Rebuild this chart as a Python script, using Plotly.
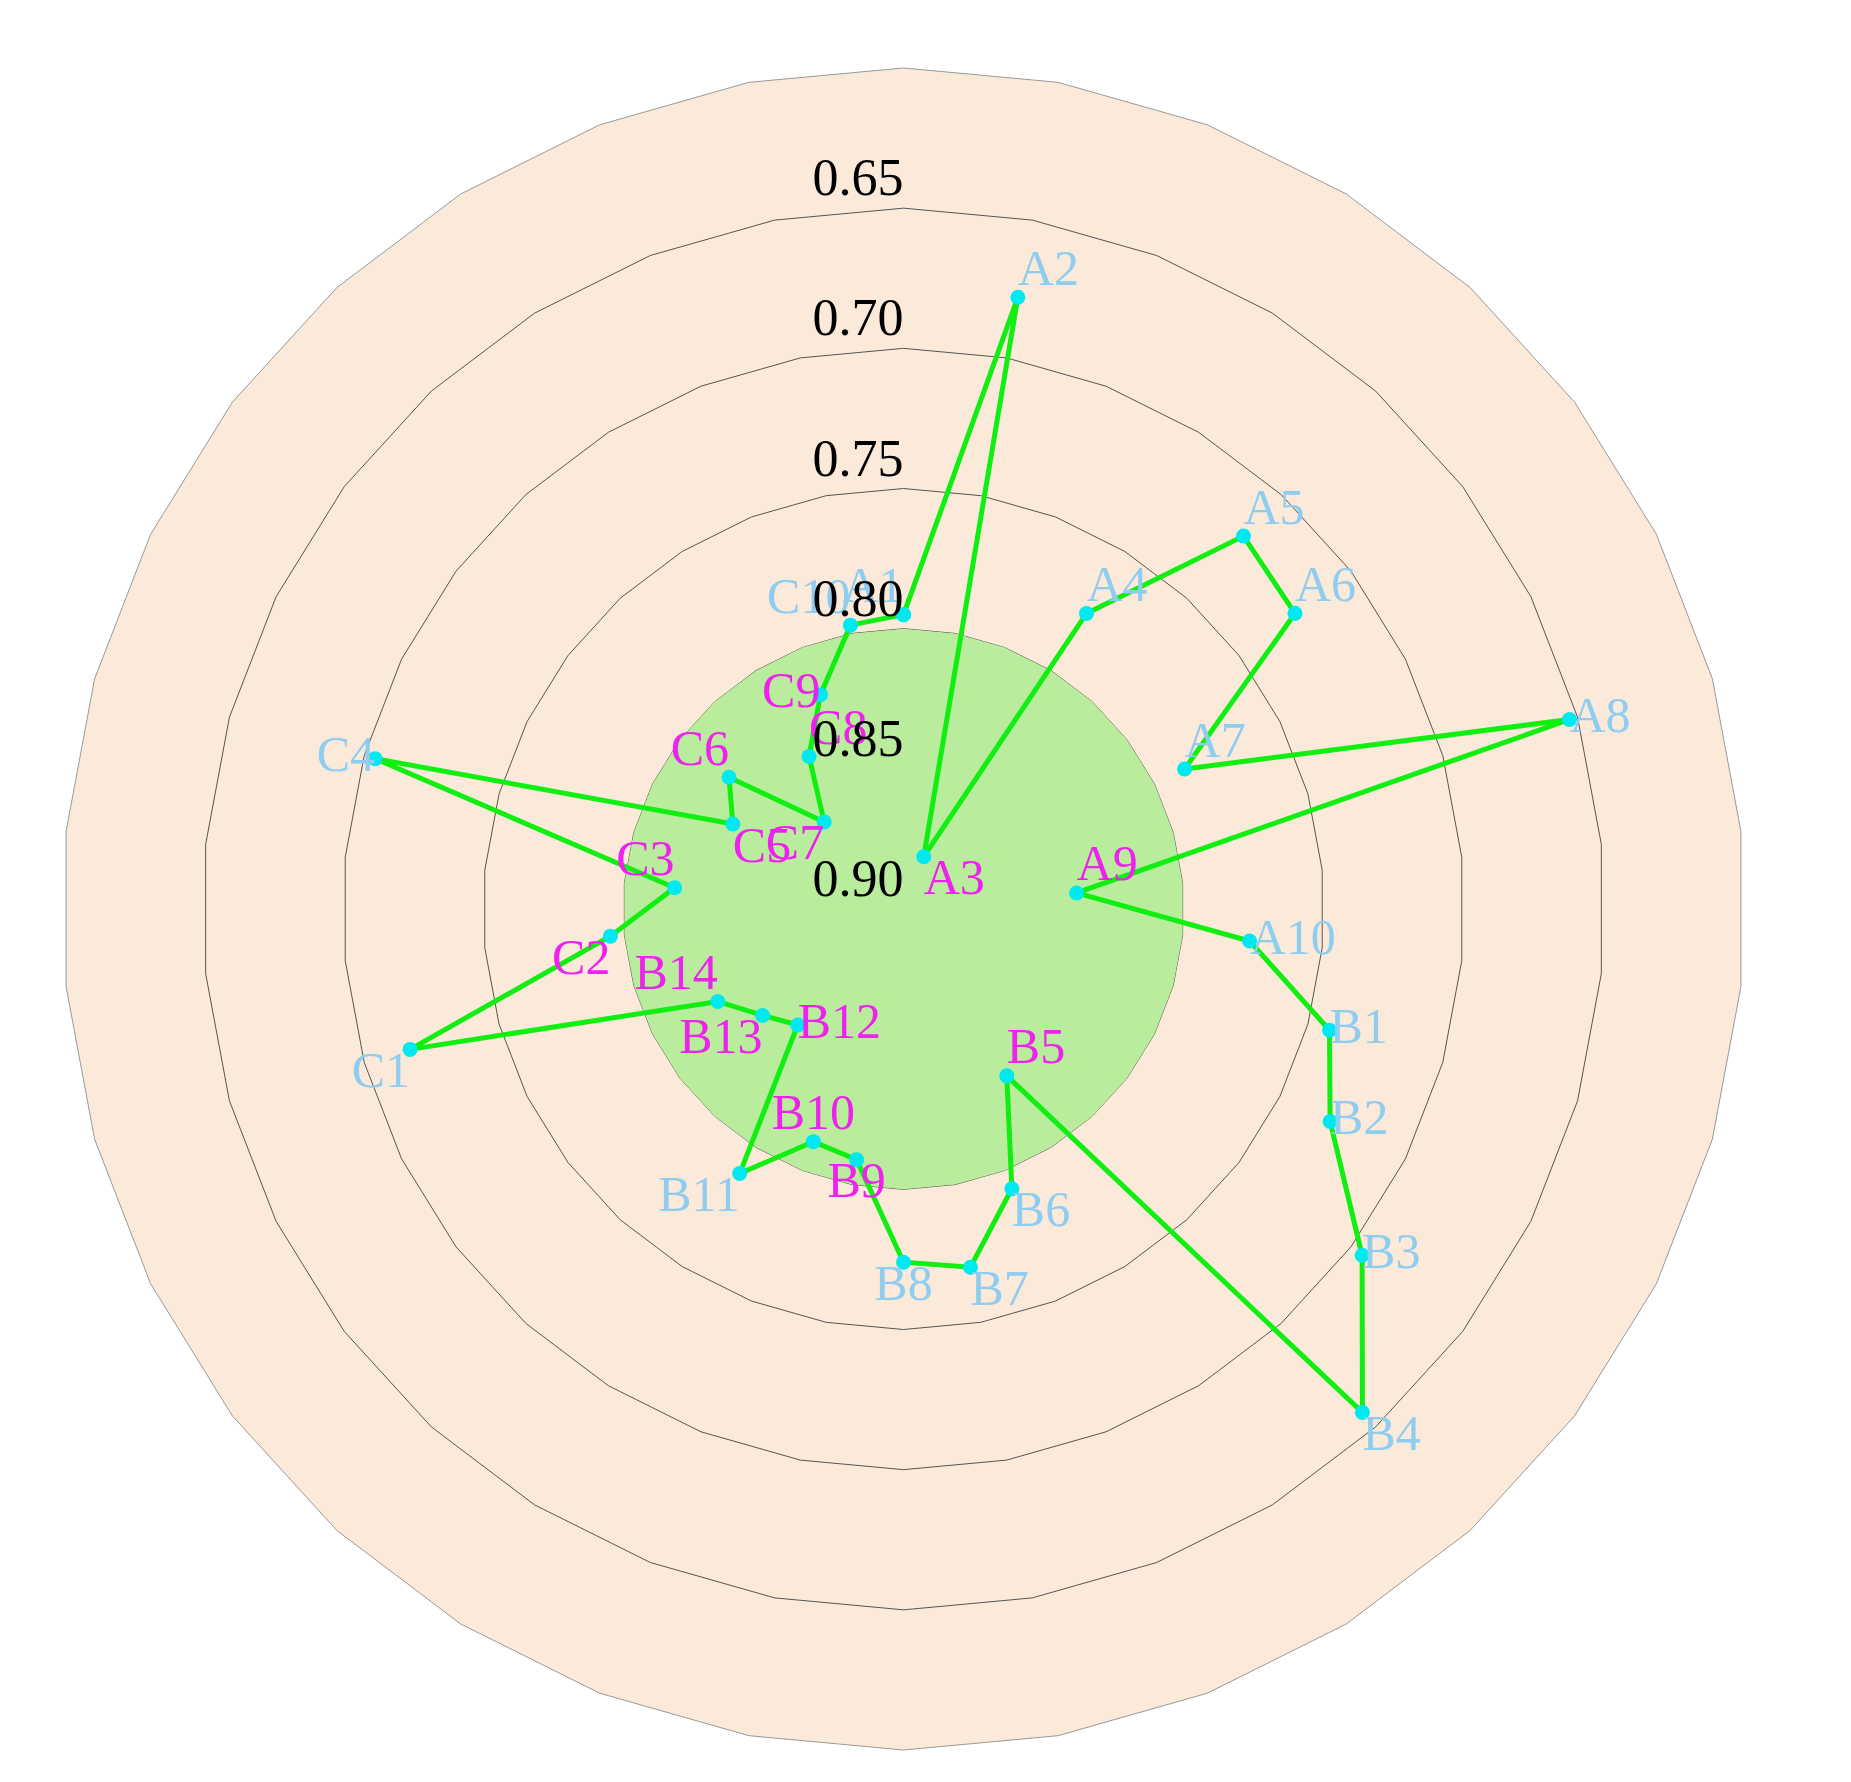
import plotly.graph_objects as go

categories = [f"A{i}" for i in range(1, 11)] + [f"B{i}" for i in range(1, 15)] + [f"C{i}" for i in range(1, 11)]
values = [0.795, 0.678, 0.880, 0.776, 0.720, 0.725, 0.788, 0.653, 0.838, 0.776,
          0.742, 0.730, 0.695, 0.657, 0.830, 0.793, 0.770, 0.774, 0.809, 0.811,
          0.789, 0.844, 0.837, 0.826,
          0.717, 0.795, 0.818, 0.704, 0.832, 0.822, 0.858, 0.836, 0.818, 0.797]
magenta = {"A3", "A9", "B5", "B9", "B10", "B12", "B13", "B14", "C2", "C3", "C5", "C6", "C7", "C8", "C9"}
label_pos = ["top left", "top right", "bottom right", "top right", "top right", "top right", "top right",
             "middle right", "top right", "middle right",
             "middle right", "middle right", "middle right", "bottom right", "top right", "bottom right",
             "bottom right", "bottom center", "bottom center", "top center", "bottom left", "middle right",
             "bottom left", "top left",
             "bottom left", "bottom left", "top left", "middle left", "bottom right", "top left",
             "bottom left", "top right", "middle left", "top left"]
tick_vals = [0.60, 0.65, 0.70, 0.75, 0.80, 0.85, 0.90]

colors = ["#EE22EE" if c in magenta else "#8FCDF0" for c in categories]
font = "Liberation Serif"

fig = go.Figure()
fig.add_trace(go.Scatterpolar(r=[0.80] * len(categories) + [0.80], theta=categories + [categories[0]],
                              mode="lines", fill="toself", fillcolor="#B9EC9C",
                              line=dict(width=0), hoverinfo="skip", showlegend=False))
fig.add_trace(go.Scatterpolar(r=values + [values[0]], theta=categories + [categories[0]],
                              mode="lines+markers", line=dict(color="#11EE11", width=5),
                              marker=dict(color="#00E8F0", size=15), showlegend=False))
fig.add_trace(go.Scatterpolar(r=values, theta=categories, mode="text", text=categories,
                              textposition=label_pos,
                              textfont=dict(family=font, size=50, color=colors), showlegend=False))
fig.add_trace(go.Scatterpolar(r=tick_vals, theta=[categories[0]] * len(tick_vals), mode="text",
                              text=[f"{v:.2f}" for v in tick_vals], textposition="top left",
                              textfont=dict(family=font, size=52, color="black"),
                              hoverinfo="skip", showlegend=False))

fig.update_layout(
    width=1851, height=1782, paper_bgcolor="white",
    margin=dict(l=40, r=100, t=60, b=40),
    polar=dict(
        bgcolor="#FBE9DA", gridshape="linear",
        domain=dict(x=[0, 1], y=[0, 1]),
        radialaxis=dict(range=[0.90, 0.60], tickvals=tick_vals, showticklabels=False,
                        angle=90, showline=False, ticks="",
                        gridcolor="#555555", gridwidth=1),
        angularaxis=dict(direction="clockwise", rotation=90, showticklabels=False, showgrid=False,
                         ticks="", linecolor="#999999", linewidth=1),
    ),
)
fig.write_html("out.html")
